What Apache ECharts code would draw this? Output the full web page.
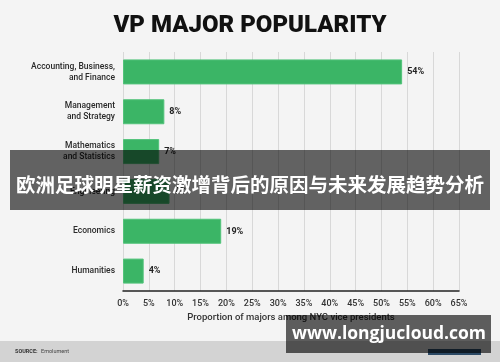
<!DOCTYPE html>
<html><head><meta charset="utf-8">
<script src="https://cdn.jsdelivr.net/npm/echarts@6/dist/echarts.min.js"></script>
<style>html,body{margin:0;padding:0;background:#f4f4f4}#c{width:500px;height:362px}</style>
</head><body><div id="c"></div>
<script>
const categories = ['Accounting, Business,\nand Finance', 'Management\nand Strategy', 'Mathematics\nand Statistics', 'Engineering', 'Economics', 'Humanities'];
const values = [54, 8, 7, 9, 19, 4];
const xTicks = [0, 5, 10, 15, 20, 25, 30, 35, 40, 45, 50, 55, 60, 65];
const titleText = 'VP MAJOR POPULARITY';
const axisName = 'Proportion of majors among NYC vice presidents';
const bannerText = '欧洲足球明星薪资激增背后的原因与未来发展趋势分析';
const watermarkText = 'www.longjucloud.com';
const sourceLabel = 'SOURCE:';
const sourceText = 'Emolument';

const chart = echarts.init(document.getElementById('c'));
chart.setOption({
  backgroundColor: '#f4f4f4',
  animation: false,
  title: {
    text: titleText, left: 'center', top: 9,
    textStyle: {fontFamily: 'Roboto', fontWeight: 900, fontSize: 24, color: '#111'}
  },
  grid: {left: 123, right: 41, top: 52, bottom: 71},
  xAxis: {
    type: 'value', min: 0, max: 65, interval: 5,
    name: axisName, nameLocation: 'middle', nameGap: 22,
    nameTextStyle: {fontFamily: 'Roboto', fontSize: 9.5, color: '#333', fontWeight: 500},
    axisLine: {show: true, lineStyle: {color: '#222', width: 1.5}},
    axisTick: {show: false},
    axisLabel: {fontFamily: 'Roboto', fontSize: 9, color: '#333', fontWeight: 500, margin: 8,
      formatter: v => xTicks.includes(v) ? v + '%' : ''},
    splitLine: {show: true, lineStyle: {color: '#d8d8d8', width: 1}}
  },
  yAxis: {
    type: 'category', data: categories, inverse: true,
    axisLine: {show: false}, axisTick: {show: false},
    axisLabel: {fontFamily: 'Roboto', fontSize: 8.5, color: '#2a2a2a', fontWeight: 500, lineHeight: 11, align: 'right', margin: 8}
  },
  series: [{
    type: 'bar', data: values, barWidth: 25,
    itemStyle: {color: '#3bb566', borderColor: '#52c37a', borderWidth: 1},
    label: {show: true, position: 'right', distance: 5, formatter: '{c}%',
      fontFamily: 'Roboto', fontWeight: 'bold', fontSize: 9, color: '#222'}
  }],
  graphic: [
    {type: 'rect', shape: {x: 0, y: 341, width: 500, height: 21}, style: {fill: '#d3d3d3'}, z: 1},
    {type: 'text', left: 15, top: 349, style: {text: sourceLabel, fontFamily: 'Roboto', fontWeight: 'bold', fontSize: 5.5, fill: '#333'}, z: 2},
    {type: 'text', left: 41, top: 349, style: {text: sourceText, fontFamily: 'Roboto', fontSize: 5.5, fill: '#444'}, z: 2},
    {type: 'rect', shape: {x: 428, y: 349, width: 53, height: 6}, style: {fill: '#2c4a66'}, z: 2},
    {type: 'rect', shape: {x: 10, y: 150, width: 480, height: 60}, style: {fill: 'rgba(0,0,0,0.6)'}, z: 100},
    {type: 'text', x: 250, y: 185, style: {text: bannerText, align: 'center', verticalAlign: 'middle', fontFamily: 'Noto Sans CJK SC', fontWeight: 'bold', fontSize: 19.5, fill: '#fff'}, z: 101},
    {type: 'rect', shape: {x: 286, y: 315, width: 205, height: 38}, style: {fill: 'rgba(0,0,0,0.62)'}, z: 100},
    {type: 'text', x: 389, y: 334, style: {text: watermarkText, align: 'center', verticalAlign: 'middle', fontFamily: 'Open Sans', fontWeight: 'bold', fontSize: 17.5, fill: '#fff'}, z: 101}
  ]
});
</script></body></html>
